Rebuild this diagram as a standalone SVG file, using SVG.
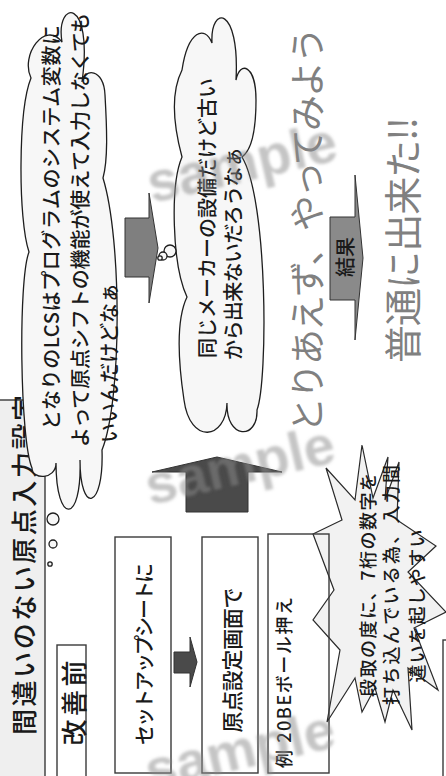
<svg xmlns="http://www.w3.org/2000/svg" width="446" height="776" viewBox="0 0 446 776">
<defs>
<style>
.t{font-family:'Noto Sans CJK JP','Noto Sans CJK SC',sans-serif;fill:#1a1a1a;dominant-baseline:central;font-weight:500}
.box{fill:#fff;stroke:#3a3a3a;stroke-width:1.4}
.cloud{fill:#f7f7f7;stroke:#1e1e1e;stroke-width:1.3}
.gray{fill:#808080;font-weight:400}
.arr{stroke:#333;stroke-width:1}
.wm{font-family:'Liberation Sans',sans-serif;font-weight:bold;font-size:56px;fill:#8c8c8c;opacity:.5}
</style>
<filter id="bl" x="-10%" y="-30%" width="120%" height="160%"><feGaussianBlur stdDeviation="1.6"/></filter>
</defs>
<rect width="446" height="776" fill="#fff"/>

<g id="title">
<rect x="-5" y="400" width="50" height="385" fill="#efefef" stroke="#3a3a3a" stroke-width="1.4"/>
<text class="t" transform="translate(22,565) rotate(-90)" text-anchor="middle" font-size="26" textLength="340" lengthAdjust="spacing">間違いのない原点入力設定</text>
</g>

<g id="before">
<rect class="box" x="57" y="645" width="29" height="140"/>
<text class="t" transform="translate(72,703) rotate(-90)" text-anchor="middle" font-size="26" font-weight="bold" textLength="85" lengthAdjust="spacing">改善前</text>
</g>

<g id="cloud1">
<path class="cloud" d="M32,468 C20,440 18,280 29,252 C18,220 18,110 31,78 C20,55 45,20 62,42 C55,0 94,-5 82,82 C84,68 104,68 105,95 C107,130 108,160 103,178 C122,240 122,400 102,450 C104,510 80,515 80,460 C82,525 56,525 56,463 C56,480 32,480 32,468 Z"/>
<circle class="cloud" cx="53" cy="519" r="6"/>
<circle class="cloud" cx="53" cy="544" r="4"/>
<circle class="cloud" cx="50" cy="564" r="2.2"/>
<text class="t" transform="translate(50,430) rotate(-90)" font-size="20" textLength="405" lengthAdjust="spacing">となりのLCSはプログラムのシステム変数に</text>
<text class="t" transform="translate(79,447) rotate(-90)" font-size="20" textLength="434" lengthAdjust="spacing">よって原点シフトの機能が使えて入力しなくても</text>
<text class="t" transform="translate(108,443) rotate(-90)" font-size="20" textLength="160" lengthAdjust="spacing">いいんだけどなぁ</text>
</g>

<g id="cloud2">
<path class="cloud" d="M227,403 C226,440 190,445 184,400 C178,360 176,320 187,297 C172,265 170,185 182,157 C172,120 172,90 182,70 C188,30 205,25 212,43 C210,5 240,5 236,80 C240,60 256,65 256,100 C256,130 252,150 242,157 C268,200 268,380 257,410 C258,440 226,440 227,403 Z"/>
<circle class="cloud" cx="170" cy="251" r="6"/>
<circle class="cloud" cx="163" cy="256" r="4"/>
<circle class="cloud" cx="160" cy="258" r="2.2"/>
<text class="t" transform="translate(206,358) rotate(-90)" font-size="20" textLength="280" lengthAdjust="spacing">同じメーカーの設備だけど古い</text>
<text class="t" transform="translate(232,360) rotate(-90)" font-size="20" textLength="213" lengthAdjust="spacing">から出来ないだろうなぁ</text>
</g>

<g id="setup">
<rect class="box" x="115" y="537" width="56" height="236"/>
<text class="t" transform="translate(143,654) rotate(-90)" text-anchor="middle" font-size="20" textLength="182" lengthAdjust="spacing">セットアップシートに</text>
</g>

<g id="origin">
<rect class="box" x="202" y="537" width="56" height="236"/>
<text class="t" transform="translate(231,660) rotate(-90)" text-anchor="middle" font-size="21" textLength="145" lengthAdjust="spacing">原点設定画面で</text>
</g>

<g id="edge-box">
<rect class="box" x="443" y="640" width="20" height="150"/>
</g>

<g id="burst">
<polygon fill="#f2f2f2" stroke="#2a2a2a" stroke-width="1.2" points="362,445 373,498 388,457 385,500 399,462 397,520 436,546 408,572 446,612 414,628 438,690 408,668 412,730 393,690 385,722 375,688 362,712 355,678 327,722 340,650 313,620 334,590 313,534 342,520 326,468 355,500"/>
<text class="t" transform="translate(367,585) rotate(-90)" text-anchor="middle" font-size="18" textLength="224" lengthAdjust="spacing">段取の度に、7桁の数字を</text>
<text class="t" transform="translate(390,585) rotate(-90)" text-anchor="middle" font-size="18" textLength="240" lengthAdjust="spacing">打ち込んでいる為、入力間</text>
<text class="t" transform="translate(416,606) rotate(-90)" text-anchor="middle" font-size="18" textLength="153" lengthAdjust="spacing">違いを起しやすい</text>
</g>

<g id="example">
<rect x="268" y="534" width="61" height="239" fill="none" stroke="#3a3a3a" stroke-width="1.4"/>
<text class="t" transform="translate(283,768) rotate(-90)" font-size="18" textLength="171" lengthAdjust="spacing" xml:space="preserve">例 20BEボール押え</text>
</g>

<g id="connectors">
<path class="arr" d="M125,218 H149 V193 L158,248 L149,303 V277 H125 Z" fill="#7f7f7f"/>
<path class="arr" d="M186,512 V472 H152 L217,457 L282,472 H248 V512 Z" fill="#4a4a4a"/>
<path class="arr" d="M174,652 H190 V637 L197,662 L190,687 V673 H174 Z" fill="#4a4a4a"/>
<path class="arr" d="M330,217 H355 V175 L363,258 L355,340 V300 H330 Z" fill="#8a8a8a"/>
</g>

<g id="result-label">
<text class="t" transform="translate(344,257) rotate(-90)" text-anchor="middle" font-size="20" font-weight="bold" textLength="40" lengthAdjust="spacing">結果</text>
</g>

<g id="try">
<text class="t gray" transform="translate(305,433) rotate(-90)" font-size="36" textLength="406" lengthAdjust="spacing">とりあえず、やってみよう</text>
</g>

<g id="done">
<text class="t gray" transform="translate(400,363) rotate(-90)" font-size="38" textLength="246" lengthAdjust="spacing">普通に出来た!!</text>
</g>

<g id="watermarks" filter="url(#bl)">
<text class="wm" transform="translate(152,203) rotate(-13)">sample</text>
<text class="wm" transform="translate(150,505) rotate(-13)">sample</text>
<text class="wm" transform="translate(150,790) rotate(-13)">sample</text>
</g>
</svg>
